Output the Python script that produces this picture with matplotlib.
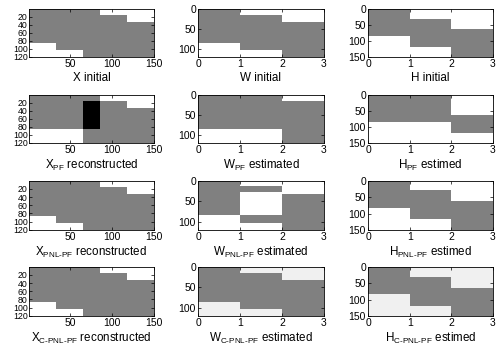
import numpy as np
import matplotlib
matplotlib.use("Agg")
import matplotlib.pyplot as plt
from matplotlib.colors import ListedColormap

plt.rcParams['font.family'] = ['Liberation Sans', 'DejaVu Sans']
plt.rcParams['mathtext.fontset'] = 'custom'
plt.rcParams['mathtext.rm'] = 'Liberation Sans'
plt.rcParams['mathtext.it'] = 'Liberation Sans'

# value codes: 0 white, 1 gray, 2 black, 3 light gray, 4 dark gray
# ---- W matrices (120 x 3): per column, row boundaries and values
W_init_bounds = [[0, 85, 120], [0, 15, 103, 120], [0, 33, 120]]
W_init_vals = [[1, 0], [0, 1, 0], [0, 1]]
W_pf_bounds = [[0, 85, 120], [0, 85, 120], [0, 15, 120]]
W_pf_vals = [[1, 0], [1, 0], [0, 1]]
W_pnl_bounds = [[0, 85, 120], [0, 15, 30, 85, 103, 120], [0, 33, 120]]
W_pnl_vals = [[1, 0], [0, 1, 0, 1, 0], [0, 1]]
W_c_bounds = [[0, 85, 120], [0, 15, 103, 120], [0, 33, 120]]
W_c_vals = [[1, 3], [3, 1, 3], [3, 1]]

# ---- H matrices (150 x 3)
H_init_bounds = [[0, 83, 150], [0, 30, 118, 150], [0, 63, 150]]
H_init_vals = [[1, 0], [0, 1, 0], [0, 1]]
H_pf_bounds = [[0, 85, 150], [0, 85, 150], [0, 63, 120, 150]]
H_pf_vals = [[1, 0], [1, 0], [0, 1, 0]]
H_pnl_bounds = [[0, 83, 150], [0, 30, 118, 150], [0, 63, 150]]
H_pnl_vals = [[1, 0], [0, 1, 0], [0, 1]]
H_c_bounds = [[0, 83, 150], [0, 30, 118, 150], [0, 63, 150]]
H_c_vals = [[1, 3], [3, 1, 3], [3, 1]]

# ---- X matrices (120 x 150): column blocks, each with row boundaries/values
X_init_cols = [0, 32, 65, 85, 118, 150]
X_init_bounds = [[0, 85, 120], [0, 103, 120], [0, 120], [0, 15, 120], [0, 33, 120]]
X_init_vals = [[1, 0], [1, 0], [1], [0, 1], [0, 1]]
X_pf_cols = [0, 65, 85, 118, 150]
X_pf_bounds = [[0, 85, 120], [0, 15, 85, 120], [0, 15, 120], [0, 33, 120]]
X_pf_vals = [[1, 0], [1, 2, 1], [0, 1], [0, 1]]
X_pnl_cols = [0, 32, 65, 85, 118, 150]
X_pnl_bounds = [[0, 85, 120], [0, 103, 120], [0, 120], [0, 15, 120], [0, 33, 120]]
X_pnl_vals = [[1, 0], [1, 0], [1], [0, 1], [0, 1]]
X_c_cols = [0, 32, 65, 85, 118, 150]
X_c_bounds = [[0, 2, 85, 120], [0, 2, 103, 120], [0, 2, 120], [0, 15, 120], [0, 33, 120]]
X_c_vals = [[4, 1, 0], [4, 1, 0], [4, 1], [0, 1], [0, 1]]

palette = ['#ffffff', '#808080', '#000000', '#f0f0f0', '#5a5a5a']
cmap = ListedColormap(palette)


def build_factor(bounds, vals, nrows):
    img = np.zeros((nrows, len(bounds)))
    for c, (b, v) in enumerate(zip(bounds, vals)):
        for k, val in enumerate(v):
            img[b[k]:b[k + 1], c] = val
    return img


def build_x(cols, bounds, vals, nrows=120):
    img = np.zeros((nrows, cols[-1]))
    for c in range(len(cols) - 1):
        b, v = bounds[c], vals[c]
        for k, val in enumerate(v):
            img[b[k]:b[k + 1], cols[c]:cols[c + 1]] = val
    return img


rows = [
    (build_x(X_init_cols, X_init_bounds, X_init_vals), build_factor(W_init_bounds, W_init_vals, 120),
     build_factor(H_init_bounds, H_init_vals, 150),
     ['X initial', 'W initial', 'H initial']),
    (build_x(X_pf_cols, X_pf_bounds, X_pf_vals), build_factor(W_pf_bounds, W_pf_vals, 120),
     build_factor(H_pf_bounds, H_pf_vals, 150),
     [r'X$_{\mathrm{PF}}$ reconstructed', r'W$_{\mathrm{PF}}$ estimated', r'H$_{\mathrm{PF}}$ estimed']),
    (build_x(X_pnl_cols, X_pnl_bounds, X_pnl_vals), build_factor(W_pnl_bounds, W_pnl_vals, 120),
     build_factor(H_pnl_bounds, H_pnl_vals, 150),
     [r'X$_{\mathrm{PNL\text{-}PF}}$ reconstructed', r'W$_{\mathrm{PNL\text{-}PF}}$ estimated',
      r'H$_{\mathrm{PNL\text{-}PF}}$ estimed']),
    (build_x(X_c_cols, X_c_bounds, X_c_vals), build_factor(W_c_bounds, W_c_vals, 120),
     build_factor(H_c_bounds, H_c_vals, 150),
     [r'X$_{\mathrm{C\text{-}PNL\text{-}PF}}$ reconstructed', r'W$_{\mathrm{C\text{-}PNL\text{-}PF}}$ estimated',
      r'H$_{\mathrm{C\text{-}PNL\text{-}PF}}$ estimed']),
]

W_px, H_px = 496, 347
fig = plt.figure(figsize=(W_px / 100, H_px / 100), dpi=100)

col_x = [(29, 154), (198, 324), (368, 493)]
row_y = [(9, 57), (95, 143), (181, 230), (267, 316)]

def add_ax(x0, x1, y0, y1):
    return fig.add_axes([x0 / W_px, 1 - y1 / H_px, (x1 - x0) / W_px, (y1 - y0) / H_px])

x_axes = []
for r, (X, Wm, Hm, labels) in enumerate(rows):
    y0, y1 = row_y[r]
    # X
    ax = add_ax(*col_x[0], y0, y1)
    ax.imshow(X, cmap=cmap, vmin=-0.5, vmax=4.5, aspect='auto', interpolation='nearest',
              extent=[0.5, 150.5, 120.5, 0.5])
    ax.set_xticks([50, 100, 150])
    ax.set_yticks([20, 40, 60, 80, 100, 120])
    ax.set_xlabel(labels[0], fontsize=8.4, labelpad=2)
    x_axes.append(ax)
    # W
    ax = add_ax(*col_x[1], y0, y1)
    ax.imshow(Wm, cmap=cmap, vmin=-0.5, vmax=4.5, aspect='auto', interpolation='nearest',
              extent=[0, 3, 120, 0])
    ax.set_xticks([0, 1, 2, 3])
    ax.set_yticks([0, 50, 100])
    ax.set_xlabel(labels[1], fontsize=8.4, labelpad=2)
    # H
    ax = add_ax(*col_x[2], y0, y1)
    ax.imshow(Hm, cmap=cmap, vmin=-0.5, vmax=4.5, aspect='auto', interpolation='nearest',
              extent=[0, 3, 150, 0])
    ax.set_xticks([0, 1, 2, 3])
    ax.set_yticks([0, 50, 100, 150])
    ax.set_xlabel(labels[2], fontsize=8.4, labelpad=2)

for ax in fig.axes:
    ax.tick_params(direction='in', length=2, width=0.5, top=True, right=True,
                   labelsize=7.5, pad=1.5)
    for s in ax.spines.values():
        s.set_linewidth(0.6)

for ax in x_axes:
    ax.tick_params(axis='y', labelsize=6.3, pad=1)

fig.savefig('out.png', dpi=100)
